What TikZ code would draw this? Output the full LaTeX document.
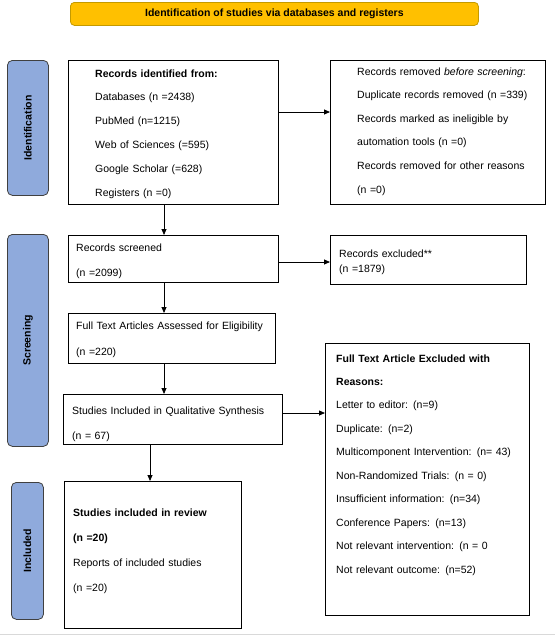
\documentclass[tikz,border=0pt]{standalone}
\usepackage{fontspec}
\setmainfont{Liberation Sans}
\usetikzlibrary{arrows.meta}
\definecolor{bannerfill}{HTML}{FFC000}
\definecolor{bannerline}{HTML}{C49A00}
\definecolor{sidefill}{HTML}{8FAADC}
\definecolor{sideline}{HTML}{404040}
\definecolor{rulegray}{HTML}{D9D9D9}
\begin{document}
\begin{tikzpicture}[x=1pt,y=-1pt,
  box/.style={draw=black,line width=0.8pt,inner sep=0pt,anchor=north west},
  sidebox/.style={draw=sideline,fill=sidefill,line width=0.8pt,rounded corners=5pt,inner sep=0pt,anchor=north west},
  sidelabel/.style={rotate=90,font=\fontsize{10.5}{12}\selectfont\bfseries,inner sep=0pt},
  txt/.style={anchor=base west,inner sep=0pt,align=left,text width=#1},
  txt/.default=210pt,
  arr/.style={line width=0.8pt,-{Triangle[length=6pt,width=5pt]}}
]
\useasboundingbox (0,0) rectangle (555,637);
\draw[rulegray,line width=1pt] (0,634) -- (555,634);

% banner
\node[draw=bannerline,fill=bannerfill,line width=0.8pt,rounded corners=4pt,anchor=north west,
  minimum width=408pt,minimum height=23pt,inner sep=0pt,
  font=\fontsize{10.5}{12}\selectfont\bfseries] (banner) at (70,2) {Identification of studies via databases and registers};

% side boxes
\node[sidebox,minimum width=41pt,minimum height=135pt] (sideI) at (7,60) {};
\node[sidelabel] (sideIl) at (sideI.center) {Identification};
\node[sidebox,minimum width=41pt,minimum height=212pt] (sideS) at (7,234) {};
\node[sidelabel] (sideSl) at (sideS.center) {Screening};
\node[sidebox,minimum width=32pt,minimum height=137pt] (sideN) at (11,482) {};
\node[sidelabel] (sideNl) at (sideN.center) {Included};

% main boxes
\node[box,minimum width=210pt,minimum height=144pt] (ident) at (68,60) {};
\node[txt,font=\fontsize{10.5}{23.8}\selectfont] (identT) at (95,77)
  {\textbf{Records identified from:}\\Databases (n =2438)\\PubMed (n=1215)\\Web of Sciences (=595)\\Google Scholar (=628)\\Registers (n =0)};

\node[box,minimum width=215pt,minimum height=144pt] (removed) at (330,60) {};
\node[txt,font=\fontsize{10.5}{23.6}\selectfont] (removedT) at (357,75)
  {Records removed \textit{before screening}:\\Duplicate records removed (n =339)\\Records marked as ineligible by\\automation tools (n =0)\\Records removed for other reasons\\(n =0)};

\node[box,minimum width=210pt,minimum height=47pt] (screened) at (68,235) {};
\node[txt,font=\fontsize{10.5}{25}\selectfont] (screenedT) at (76,251)
  {Records screened\\(n =2099)};

\node[box,minimum width=196pt,minimum height=49pt] (excluded) at (330,235) {};
\node[txt,font=\fontsize{10.5}{15}\selectfont] (excludedT) at (339,257)
  {Records excluded**\\(n =1879)};

\node[box,minimum width=207pt,minimum height=50pt] (full) at (68,313) {};
\node[txt,font=\fontsize{10.5}{26}\selectfont] (fullT) at (76,329)
  {Full Text Articles Assessed for Eligibility\\(n =220)};

\node[box,minimum width=219pt,minimum height=50pt] (qual) at (63,394) {};
\node[txt,font=\fontsize{10.5}{25}\selectfont] (qualT) at (72,414)
  {Studies Included in Qualitative Synthesis\\(n = 67)};

\node[box,minimum width=204pt,minimum height=272pt] (fte) at (325,343) {};
\node[txt,font=\fontsize{10.5}{23.45}\selectfont] (fteT) at (336,362)
  {\textbf{Full Text Article Excluded with}\\\textbf{Reasons:}\\Letter to editor: (n=9)\\Duplicate: (n=2)\\Multicomponent Intervention: (n= 43)\\Non-Randomized Trials: (n = 0)\\Insufficient information: (n=34)\\Conference Papers: (n=13)\\Not relevant intervention: (n = 0\\Not relevant outcome: (n=52)};

\node[box,minimum width=177pt,minimum height=147pt] (incl) at (64,481) {};
\node[txt,font=\fontsize{10.5}{25}\selectfont] (inclT) at (73,516)
  {\textbf{Studies included in review}\\\textbf{(n =20)}\\Reports of included studies\\(n =20)};

% connectors
\coordinate (y1) at (0,112);
\coordinate (y2) at (0,262);
\coordinate (y3) at (0,413);
\coordinate (x1) at (164,0);
\coordinate (x2) at (150,0);
\draw[arr] (ident.east |- y1) -- (removed.west |- y1);
\draw[arr] (ident.south -| x1) -- (screened.north -| x1);
\draw[arr] (screened.east |- y2) -- (excluded.west |- y2);
\draw[arr] (screened.south -| x1) -- (full.north -| x1);
\draw[arr] (full.south -| x1) -- (qual.north -| x1);
\draw[arr] (qual.east |- y3) -- (fte.west |- y3);
\draw[arr] (qual.south -| x2) -- (incl.north -| x2);
\end{tikzpicture}
\end{document}
